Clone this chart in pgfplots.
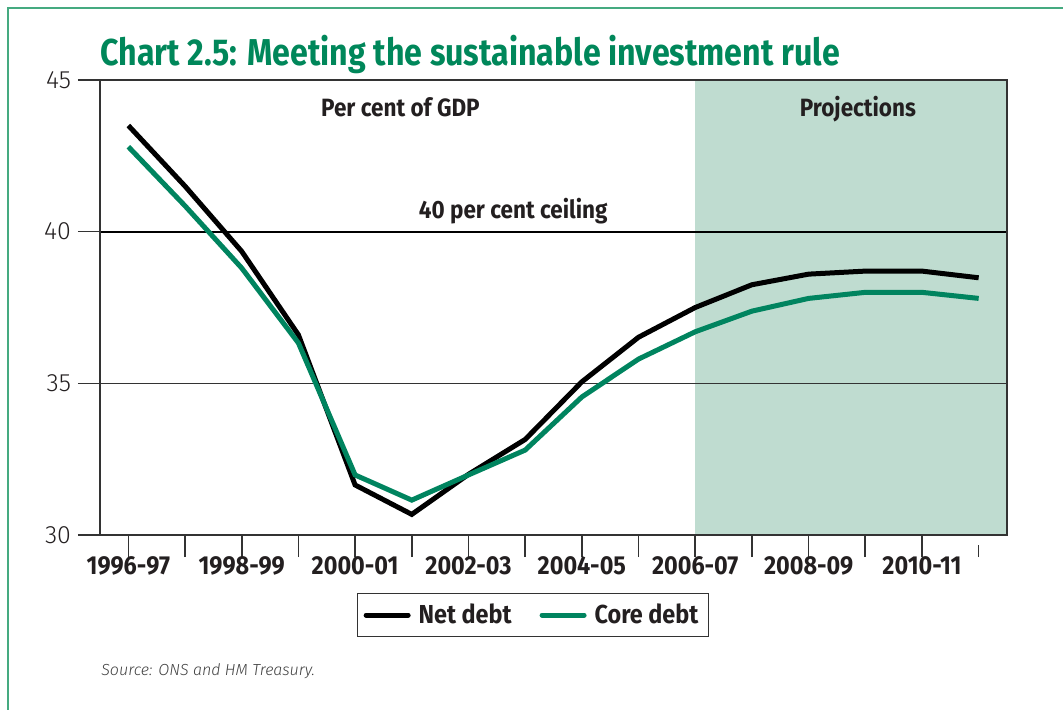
\documentclass[border=0pt]{standalone}
\usepackage{pgfplots}
\pgfplotsset{compat=1.18}
\usepackage{fontspec}
\setmainfont{Fira Sans}
\newfontfamily\lightfont{Fira Sans}[UprightFont=* Light, ItalicFont=* Light Italic]
\newfontfamily\cb{Fira Sans}[FakeStretch=0.9]
\newfontfamily\tb{Fira Sans}[FakeStretch=0.86]

\definecolor{hmgreen}{HTML}{00875A}
\definecolor{linegreen}{HTML}{00845F}
\definecolor{shade}{HTML}{BFDCD0}
\definecolor{framegreen}{HTML}{45AA80}
\definecolor{txt}{HTML}{231F20}

\begin{document}
\begin{tikzpicture}
\useasboundingbox (0,0) rectangle (531.5pt,354.5pt);
\draw[framegreen, line width=0.8pt] (4pt,-1pt) -- (4pt,350.5pt) -- (533pt,350.5pt);

\node[anchor=base west, inner sep=0, text=hmgreen,
      font=\tb\bfseries\fontsize{18.7}{22}\selectfont] at (50pt,322pt)
  {Chart 2.5: Meeting the sustainable investment rule};

\begin{axis}[
  at={(50pt,87pt)}, anchor=south west,
  scale only axis, width=453.5pt, height=227.5pt,
  xmin=-0.5, xmax=15.5, ymin=30, ymax=45,
  xtick={0,...,15},
  xticklabels={1996-97,,1998-99,,2000-01,,2002-03,,2004-05,,2006-07,,2008-09,,2010-11,},
  ytick={30,35,40,45},
  xtick pos=bottom, ytick pos=left,
  /pgf/number format/assume math mode=true,
  tick align=outside,
  major tick length=11pt,
  x tick style={shorten >=5pt},
  axis on top,
  axis line style={draw=black!80, line width=0.8pt},
  tick style={draw=black!80, line width=0.8pt},
  x tick label style={font=\cb\bfseries\fontsize{13}{15}\selectfont, text=txt, yshift=4pt},
  y tick label style={font=\lightfont\fontsize{12.5}{14}\selectfont, text=txt},
  legend style={at={(0.4774,-0.1758)}, anchor=center, legend columns=2,
    draw=black!80, line width=0.6pt, inner sep=3pt,
    font=\cb\bfseries\fontsize{13}{15}\selectfont, text=txt,
    /tikz/every even column/.append style={column sep=12pt},
    /tikz/every odd column/.append style={column sep=2pt}},
  legend image code/.code={\draw[#1, line width=2.5pt, line cap=round] (3pt,0pt) -- (24pt,0pt);},
]
\addplot[draw=none, fill=shade, forget plot] coordinates {(10,30) (10,45) (15.5,45) (15.5,30)} -- cycle;
\addplot[black!80, line width=0.6pt, forget plot] coordinates {(-0.5,35) (15.5,35)};
\addplot[black, line width=1.1pt, forget plot] coordinates {(-0.5,40) (15.5,40)};

\addplot[black, line width=2.5pt, line join=miter] coordinates {
  (0,43.5) (1,41.5) (2,39.35) (3,36.6) (4,31.65) (5,30.68) (6,32.0) (7,33.15)
  (8,35.05) (9,36.52) (10,37.5) (11,38.25) (12,38.6) (13,38.7) (14,38.7) (15,38.48)};
\addlegendentry{Net debt}
\addplot[linegreen, line width=2.5pt, line join=miter] coordinates {
  (0,42.8) (1,40.85) (2,38.8) (3,36.33) (4,31.98) (5,31.15) (6,31.98) (7,32.8)
  (8,34.55) (9,35.8) (10,36.7) (11,37.38) (12,37.8) (13,38.0) (14,38.0) (15,37.8)};
\addlegendentry{Core debt}

\node[font=\cb\bfseries\fontsize{12.5}{14}\selectfont, text=txt] at (axis cs:4.8,44.09) {Per cent of GDP};
\node[font=\cb\bfseries\fontsize{12.5}{14}\selectfont, text=txt] at (axis cs:12.87,44.03) {Projections};
\node[font=\cb\bfseries\fontsize{12.5}{14}\selectfont, text=txt] at (axis cs:6.79,40.69) {40 per cent ceiling};
\end{axis}

\node[anchor=base west, inner sep=0, text=black!75,
      font=\lightfont\itshape\fontsize{8}{10}\selectfont] at (50.5pt,17pt)
  {Source: ONS and HM Treasury.};
\end{tikzpicture}
\end{document}
